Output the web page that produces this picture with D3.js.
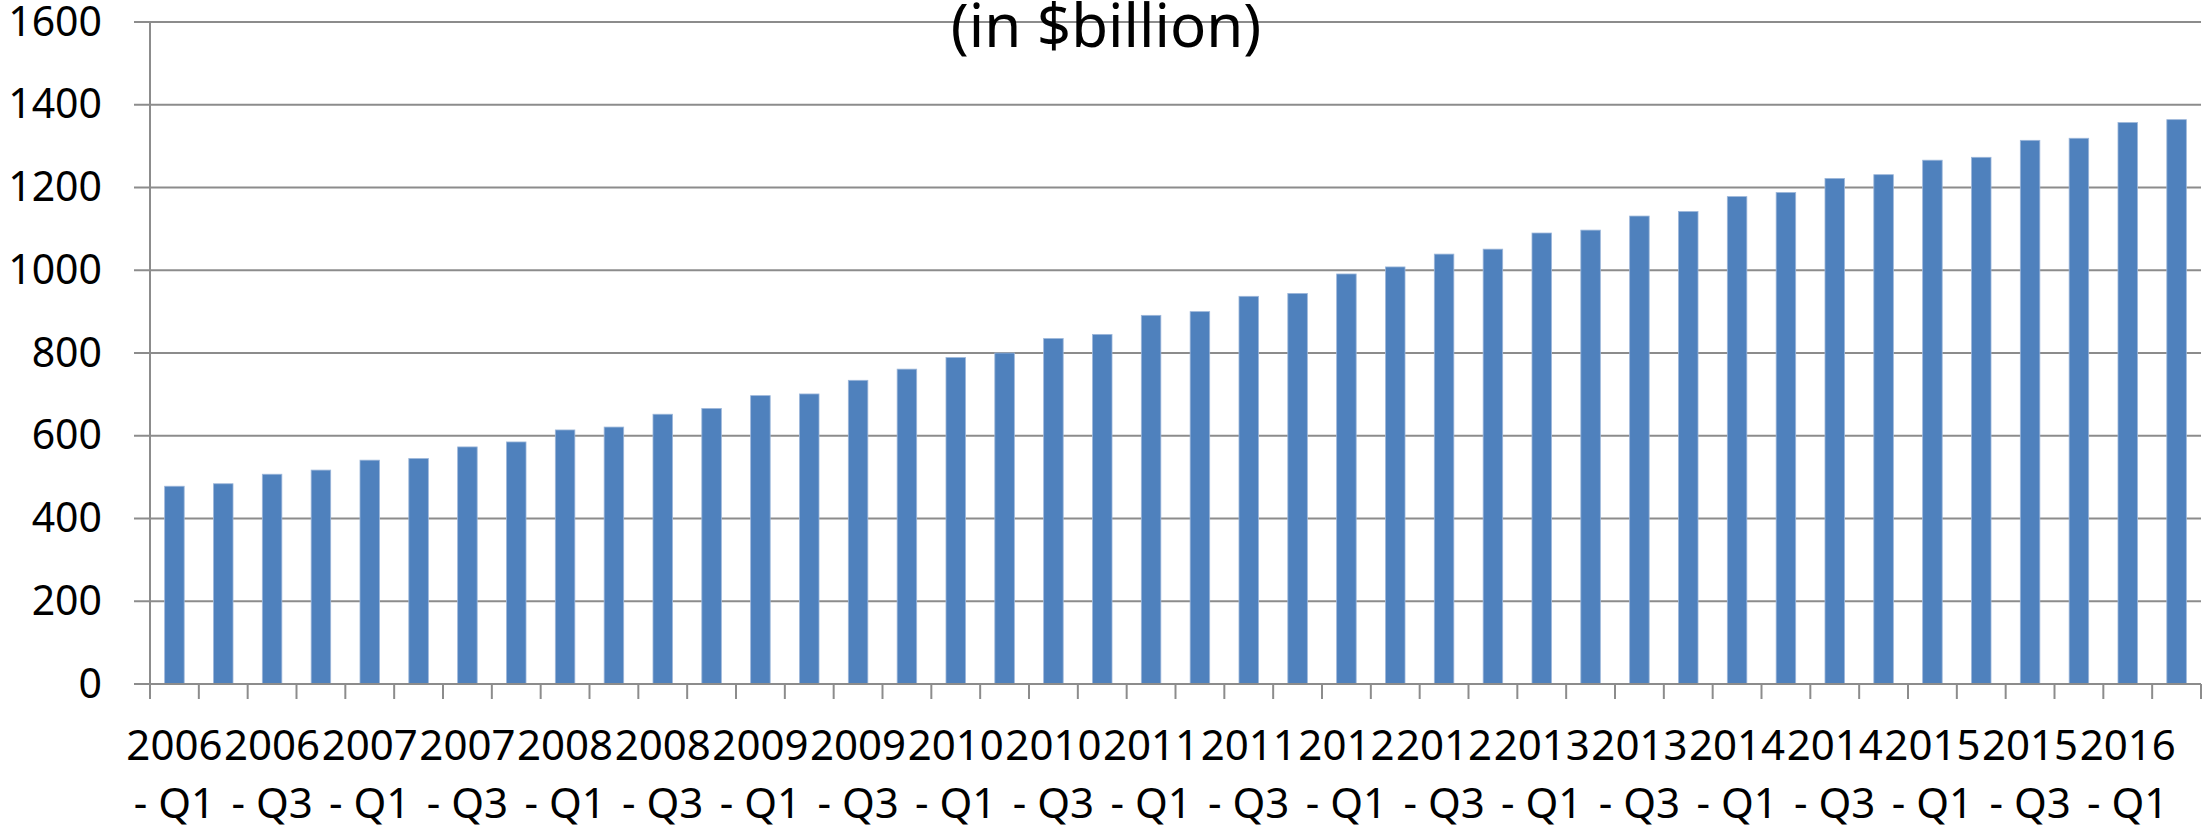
<!DOCTYPE html>
<html>
<head>
<meta charset="utf-8">
<script src="https://cdn.jsdelivr.net/npm/d3@7"></script>
<style>
  body { margin: 0; background: #fff; }
  svg { display: block; font-family: "Noto Sans", sans-serif; }
</style>
</head>
<body>
<svg id="chart" width="2203" height="827"></svg>
<script>
var quarters = [
  "2006 - Q1", "2006 - Q2", "2006 - Q3", "2006 - Q4",
  "2007 - Q1", "2007 - Q2", "2007 - Q3", "2007 - Q4",
  "2008 - Q1", "2008 - Q2", "2008 - Q3", "2008 - Q4",
  "2009 - Q1", "2009 - Q2", "2009 - Q3", "2009 - Q4",
  "2010 - Q1", "2010 - Q2", "2010 - Q3", "2010 - Q4",
  "2011 - Q1", "2011 - Q2", "2011 - Q3", "2011 - Q4",
  "2012 - Q1", "2012 - Q2", "2012 - Q3", "2012 - Q4",
  "2013 - Q1", "2013 - Q2", "2013 - Q3", "2013 - Q4",
  "2014 - Q1", "2014 - Q2", "2014 - Q3", "2014 - Q4",
  "2015 - Q1", "2015 - Q2", "2015 - Q3", "2015 - Q4",
  "2016 - Q1", "2016 - Q2"
];

var values = [
  478, 484, 507, 517, 541, 545, 573, 585, 614, 621, 652,
  666, 697, 701, 734, 761, 789, 800, 835, 845, 891, 900,
  937, 944, 991, 1008, 1039, 1051, 1090, 1097, 1131, 1142,
  1178, 1188, 1222, 1231, 1266, 1273, 1314, 1319, 1357, 1364
];

var yTicks = [0, 200, 400, 600, 800, 1000, 1200, 1400, 1600];

var title = "(in $billion)";

var svg = d3.select("svg#chart"),
    margin = {top: 22, right: 2, bottom: 143, left: 150};

var width = +svg.attr("width") - margin.left - margin.right,
    height = +svg.attr("height") - margin.top - margin.bottom;

var x = d3.scaleBand()
    .domain(quarters)
    .range([0, width])
    .paddingInner(0.6)
    .paddingOuter(0.3);

var y = d3.scaleLinear()
    .domain([0, 1600])
    .range([height, 0]);

var gridColor = "#8c8c8c";

var g = svg.append("g").attr("transform", "translate(" + margin.left + "," + margin.top + ")");

// horizontal gridlines (they poke out left of the axis like ticks)
g.append("g")
    .selectAll("line")
    .data(yTicks)
    .enter().append("line")
      .attr("x1", -16)
      .attr("x2", width)
      .attr("y1", function(d) { return y(d); })
      .attr("y2", function(d) { return y(d); })
      .attr("stroke", gridColor)
      .attr("stroke-width", 2);

// y labels
g.append("g")
    .attr("class", "axis")
    .call(d3.axisLeft(y).tickValues(yTicks).tickFormat(d3.format("d")).tickSize(0).tickPadding(48))
    .call(function(a) { a.select(".domain").remove(); })
    .selectAll("text")
      .attr("font-family", "Noto Sans")
      .attr("font-size", 41)
      .attr("fill", "#000");

// bars
var dataRows = quarters.map(function(q, i) { return {q: q, v: values[i]}; });

g.append("g")
    .selectAll("rect")
    .data(dataRows)
    .enter().append("rect")
      .attr("x", function(d) { return x(d.q); })
      .attr("y", function(d) { return y(d.v); })
      .attr("width", x.bandwidth())
      .attr("height", function(d) { return height - y(d.v); })
      .attr("fill", "#4f81bd")
      .attr("stroke", "#9db7da")
      .attr("stroke-width", 0.8);

// vertical axis line
g.append("line")
    .attr("x1", 0).attr("x2", 0)
    .attr("y1", y(1600)).attr("y2", height)
    .attr("stroke", gridColor)
    .attr("stroke-width", 2);

// bottom axis line + tick marks on every category boundary
var bounds = quarters.map(function(q) { return x(q) - (x.step() - x.bandwidth()) / 2; });
bounds.push(width);

var xAxis = g.append("g")
    .attr("transform", "translate(0," + height + ")");

xAxis.append("line")
    .attr("x1", 0).attr("x2", width)
    .attr("stroke", gridColor)
    .attr("stroke-width", 2);

xAxis.selectAll("line.tick")
    .data(bounds)
    .enter().append("line")
      .attr("class", "tick")
      .attr("x1", function(d) { return d; })
      .attr("x2", function(d) { return d; })
      .attr("y1", 0)
      .attr("y2", 15)
      .attr("stroke", gridColor)
      .attr("stroke-width", 2);

// every other quarter gets a two-line label
var labels = xAxis.selectAll("text")
    .data(quarters.filter(function(q, i) { return i % 2 === 0; }))
    .enter().append("text")
      .attr("text-anchor", "middle")
      .attr("font-family", "Noto Sans")
      .attr("font-size", 42)
      .attr("fill", "#000")
      .attr("transform", function(d) { return "translate(" + (x(d) + x.bandwidth() / 2) + ",0)"; });

labels.append("tspan")
    .attr("x", 0)
    .attr("y", 76)
    .text(function(d) { return d.split(" - ")[0]; });

labels.append("tspan")
    .attr("x", 0)
    .attr("y", 134)
    .text(function(d) { return "- " + d.split(" - ")[1]; });

// title, clipped by the top of the picture
svg.append("text")
    .attr("x", 1106)
    .attr("y", 47)
    .attr("text-anchor", "middle")
    .attr("font-family", "Noto Sans")
    .attr("font-size", 60)
    .attr("fill", "#000")
    .text(title);
</script>
</body>
</html>
